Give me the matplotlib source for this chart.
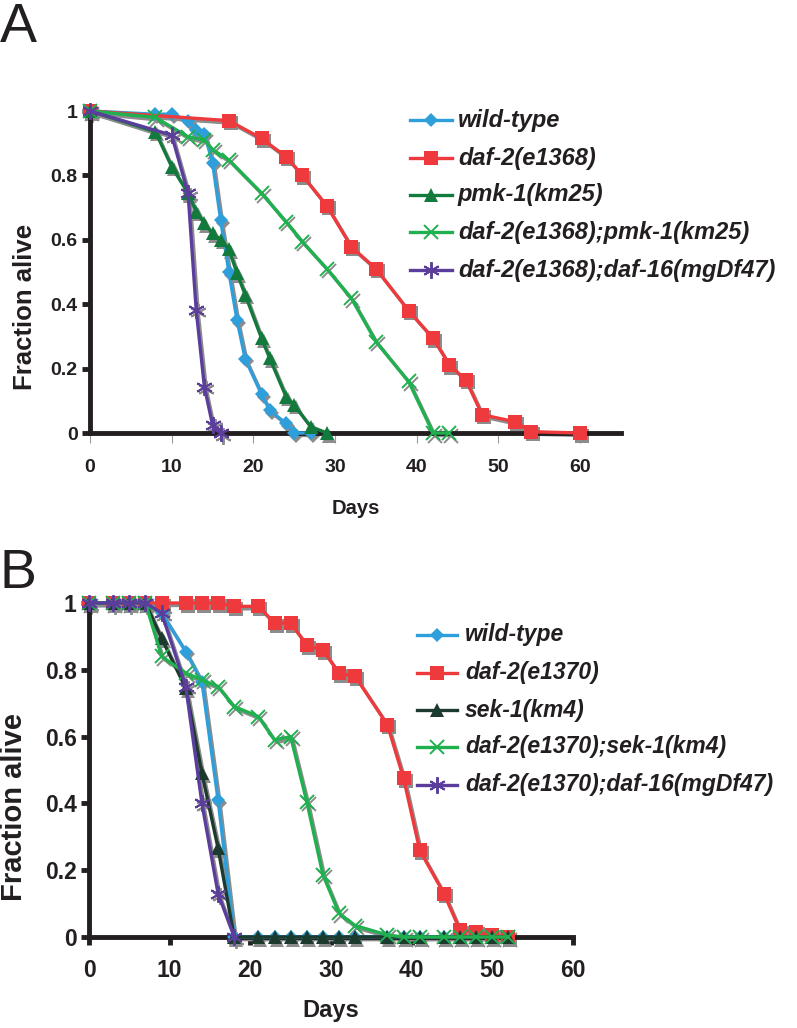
import matplotlib
matplotlib.use("Agg")
import matplotlib.pyplot as plt
import matplotlib.transforms as mtransforms
from matplotlib.lines import Line2D

plt.rcParams['font.family'] = ['Liberation Sans', 'DejaVu Sans']

# ---- panel A data ----
wt_a_days = [0, 8, 10, 12, 13, 14, 15, 16, 17, 18, 19, 21, 22, 24, 25, 27]
wt_a = [1, 0.99, 0.99, 0.97, 0.94, 0.93, 0.84, 0.66, 0.50, 0.35, 0.23, 0.12, 0.07, 0.03, 0, 0]

daf2_a_days = [0, 17, 21, 24, 26, 29, 32, 35, 39, 42, 44, 46, 48, 52, 54, 60]
daf2_a = [1, 0.97, 0.915, 0.858, 0.80, 0.705, 0.578, 0.51, 0.38, 0.294, 0.211, 0.165, 0.057, 0.035, 0.004, 0]

pmk1_a_days = [0, 8, 10, 12, 13, 14, 15, 16, 17, 18, 19, 21, 22, 24, 25, 27, 29]
pmk1_a = [1, 0.936, 0.827, 0.745, 0.687, 0.651, 0.62, 0.60, 0.57, 0.496, 0.429, 0.294, 0.232, 0.113, 0.087, 0.02, 0]

dp_a_days = [0, 8, 12, 14, 15, 17, 21, 24, 26, 29, 32, 35, 39, 42, 44]
dp_a = [1, 0.98, 0.92, 0.91, 0.88, 0.848, 0.745, 0.656, 0.594, 0.51, 0.418, 0.284, 0.16, 0, 0]

d16_a_days = [0, 10, 12, 13, 14, 15, 16]
d16_a = [1, 0.925, 0.745, 0.382, 0.144, 0.025, 0]

labels_a = ['wild-type', 'daf-2(e1368)', 'pmk-1(km25)',
            'daf-2(e1368);pmk-1(km25)', 'daf-2(e1368);daf-16(mgDf47)']

# ---- panel B data ----
wt_b_days = [0, 3, 5, 7, 9, 12, 14, 16, 18, 21, 23, 25, 27, 29, 31, 33, 37, 39, 41, 44, 46, 48, 50, 52]
wt_b = [1, 1, 1, 1, 0.97, 0.854, 0.764, 0.41, 0] + [0] * 15

daf2_b_days = [0, 3, 5, 7, 9, 12, 14, 16, 18, 21, 23, 25, 27, 29, 31, 33, 37, 39, 41, 44, 46, 48, 50, 52]
daf2_b = [1, 1, 1, 1, 1, 1, 1, 1, 0.99, 0.99, 0.94, 0.94, 0.874, 0.859, 0.79, 0.78,
          0.635, 0.475, 0.26, 0.13, 0.02, 0.016, 0.006, 0]

sek1_b_days = [0, 3, 5, 7, 9, 12, 14, 16, 18, 21, 23, 25, 27, 29, 31, 33, 37, 39, 41, 44, 46, 48, 50, 52]
sek1_b = [1, 1, 1, 1, 0.894, 0.745, 0.49, 0.266, 0] + [0] * 15

ds_b_days = [0, 3, 5, 7, 9, 12, 14, 16, 18, 21, 23, 25, 27, 29, 31, 33, 37, 39, 41, 44, 46, 48, 50, 52]
ds_b = [1, 1, 1, 1, 0.84, 0.79, 0.77, 0.75, 0.69, 0.66, 0.59, 0.60, 0.405, 0.186, 0.071, 0.034,
        0.006, 0, 0, 0, 0, 0, 0, 0]

d16_b_days = [0, 3, 5, 7, 9, 12, 14, 16, 18]
d16_b = [1, 1, 1, 1, 0.97, 0.75, 0.40, 0.13, 0]

labels_b = ['wild-type', 'daf-2(e1370)', 'sek-1(km4)',
            'daf-2(e1370);sek-1(km4)', 'daf-2(e1370);daf-16(mgDf47)']

yticks = [0, 0.2, 0.4, 0.6, 0.8, 1.0]
ytick_labels = ['0', '0.2', '0.4', '0.6', '0.8', '1']
xticks = [0, 10, 20, 30, 40, 50, 60]

blue = '#2f9fdc'
red = '#ee3a3c'
green_x = '#20b050'
purple = '#5b3e9c'
shadow = '#8c8c8c'

styles_a = [
    dict(color=blue, marker='D', ms=7.5, mew=0),
    dict(color=red, marker='s', ms=9.5, mew=0),
    dict(color='#127a3c', marker='^', ms=9.5, mew=0),
    dict(color=green_x, marker='x', ms=10, mew=1.4),
    dict(color=purple, marker=(6, 2, 0), ms=12, mew=1.4),
]
styles_b = [
    dict(color=blue, marker='D', ms=7.5, mew=0),
    dict(color=red, marker='s', ms=9.5, mew=0),
    dict(color='#1c3a2d', marker='^', ms=9.5, mew=0),
    dict(color=green_x, marker='x', ms=10, mew=1.4),
    dict(color=purple, marker=(6, 2, 0), ms=12, mew=1.4),
]

W, H = 797, 1028
fig = plt.figure(figsize=(W / 100, H / 100), dpi=100)
axA = fig.add_axes([90 / W, 1 - 433 / H, 531 / W, 322 / H])
axB = fig.add_axes([89 / W, 1 - 937 / H, 484 / W, 334 / H])


def draw_series(ax, series, styles):
    shade = mtransforms.offset_copy(ax.transData, fig=fig, x=2, y=-2.5, units='dots')
    for (days, vals), st in zip(series, styles):
        mk = st['marker']
        ax.plot(days, vals, color=shadow, lw=2.4, marker=mk, ms=st['ms'], mew=st['mew'],
                mec=shadow, mfc=shadow, transform=shade, clip_on=False, zorder=2)
    for (days, vals), st in zip(series, styles):
        ax.plot(days, vals, color=st['color'], lw=2.4, marker=st['marker'], ms=st['ms'],
                mew=st['mew'], mec=st['color'], mfc=st['color'], clip_on=False, zorder=3)


def draw_legend(labels, styles, x0, x1, xt, ys, fs):
    for lab, st, y in zip(labels, styles, ys):
        yf = 1 - y / H
        fig.add_artist(Line2D([x0 / W, x1 / W], [yf, yf], color=st['color'], lw=2.4,
                              transform=fig.transFigure))
        fig.add_artist(Line2D([(x0 + x1) / 2 / W], [yf], color=st['color'], lw=0,
                              marker=st['marker'], ms=st['ms'], mew=st['mew'],
                              mec=st['color'], mfc=st['color'], transform=fig.transFigure))
        fig.text(xt / W, yf, lab, fontsize=fs, fontweight='bold', style='italic',
                 va='center', ha='left', color='#231f20')


def style_axes(ax, xmax, tick_fs, label_fs, xlab_fs, thin_xticks):
    for s in ['top', 'right']:
        ax.spines[s].set_visible(False)
    for s in ['left', 'bottom']:
        ax.spines[s].set_linewidth(3.5)
        ax.spines[s].set_color('#231f20')
    ax.set_xlim(0, xmax)
    ax.set_ylim(0, 1)
    ax.set_xticks(xticks)
    ax.set_yticks(yticks)
    ax.set_yticklabels(ytick_labels)
    ax.tick_params(axis='y', direction='out', length=6, width=3.5, color='#231f20',
                   labelsize=tick_fs, pad=3)
    if thin_xticks:
        ax.tick_params(axis='x', direction='out', length=7, width=0.8, color='#999999',
                       labelsize=tick_fs, pad=12)
    else:
        ax.tick_params(axis='x', direction='out', length=6, width=3.5, color='#231f20',
                       labelsize=tick_fs, pad=10)
    for lab in ax.get_xticklabels() + ax.get_yticklabels():
        lab.set_fontweight('bold')
        lab.set_color('#231f20')
    ax.set_xlabel('Days', fontsize=xlab_fs, fontweight='bold', color='#231f20')
    ax.set_ylabel('Fraction alive', fontsize=label_fs, fontweight='bold', color='#231f20')


series_a = [(wt_a_days, wt_a), (daf2_a_days, daf2_a), (pmk1_a_days, pmk1_a),
            (dp_a_days, dp_a), (d16_a_days, d16_a)]
series_b = [(wt_b_days, wt_b), (daf2_b_days, daf2_b), (sek1_b_days, sek1_b),
            (ds_b_days, ds_b), (d16_b_days, d16_b)]

draw_series(axA, series_a, styles_a)
draw_series(axB, series_b, styles_b)

style_axes(axA, 65, 14, 18.5, 14.5, True)
style_axes(axB, 60, 16.5, 21, 17, False)

axA.xaxis.set_label_coords(0.5, -0.235)
axA.xaxis.label.set_va('center')
axA.yaxis.set_label_coords(-0.122, 0.39)
axA.yaxis.label.set_va('center')
axB.xaxis.set_label_coords(0.5, -0.22)
axB.xaxis.label.set_va('center')
axB.yaxis.set_label_coords(-0.155, 0.39)
axB.yaxis.label.set_va('center')

draw_legend(labels_a, styles_a, 410, 452, 458, [120, 158, 195, 232, 270], 17)
draw_legend(labels_b, styles_b, 417, 457, 465, [635, 673, 710, 747, 785], 16.5)

fig.text(0.0, 1 - 2 / H, 'A', fontsize=40, va='top', ha='left', color='#231f20')
fig.text(0.0, 1 - 548 / H, 'B', fontsize=40, va='top', ha='left', color='#231f20')

fig.savefig('out.png', dpi=100)
